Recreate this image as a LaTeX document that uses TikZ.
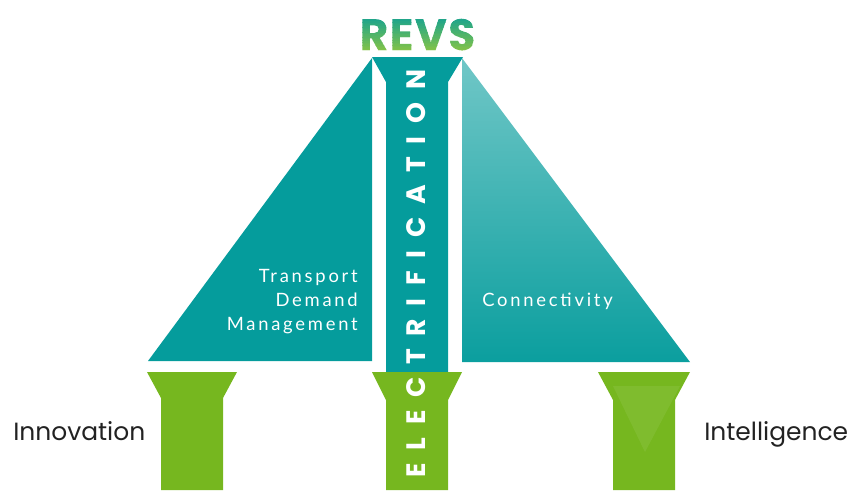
\documentclass[tikz,border=0pt]{standalone}
\usepackage{fontspec}
\setmainfont{Poppins}
\newfontfamily\lblfont{Lato}[LetterSpace=15]
\newfontfamily\elecfont{Poppins}[LetterSpace=47.5]
\newfontfamily\revsfamily{Poppins}[LetterSpace=3]
\definecolor{revteal}{HTML}{059C9C}
\definecolor{revgreen}{HTML}{76B71F}
\definecolor{revlight}{HTML}{A3DBDB}
\definecolor{revstop}{HTML}{0FA095}
\definecolor{revsbot}{HTML}{8DC641}
\definecolor{sidetext}{HTML}{222222}
\pgfdeclareverticalshading{conngrad}{100bp}{color(0bp)=(revteal); color(22bp)=(revteal); color(100bp)=(revlight)}
% text filled with a vertical gradient (text used as a clip, then stripes)
\newcommand\gradtext[1]{%
  \sbox0{#1}%
  \pgfmathsetmacro\rgW{\wd0+4}%
  \pgfmathsetmacro\rgH{\ht0}%
  \gdef\rgstr{}%
  \foreach \i in {0,...,23}{%
    \pgfmathsetmacro\rgt{(\i+0.5)/24}%
    \pgfmathsetmacro\rgr{(1-\rgt)*0.553+\rgt*0.059}%
    \pgfmathsetmacro\rgg{(1-\rgt)*0.776+\rgt*0.627}%
    \pgfmathsetmacro\rgb{(1-\rgt)*0.255+\rgt*0.584}%
    \pgfmathsetmacro\rgy{-3+\i*(\rgH+6)/24}%
    \pgfmathsetmacro\rgh{(\rgH+6)/24+0.3}%
    \xdef\rgstr{\rgstr\space\rgr\space\rgg\space\rgb\space rg -2 \rgy\space\rgW\space\rgh\space re f}%
  }%
  \rlap{\special{pdf:literal direct 7 Tr}#1}\special{pdf:literal \rgstr\space 0 Tr}\hphantom{#1}%
}
\tikzset{
  tealshape/.style={fill=revteal},
  greenshape/.style={fill=revgreen},
  sidelabel/.style={font=\fontsize{18.7}{22}\selectfont, text=sidetext, anchor=base west, inner sep=0pt},
  innerlabel/.style={font=\lblfont\fontsize{13.8}{18}\selectfont, text=white, inner sep=0pt},
  revsfont/.style={font=\revsfamily\bfseries\fontsize{33}{33}\selectfont, inner sep=0pt}
}
\begin{document}
\begin{tikzpicture}[x=0.75pt,y=-0.75pt]
\useasboundingbox (0,0) rectangle (865,490);
% upper triangles
\fill[tealshape] (148,361) -- (372,361) -- (372,58) -- cycle;
\shade[shading=conngrad] (462,58) -- (462,362) -- (690,362) -- cycle;
% central column
\fill[tealshape] (372,57) -- (463,57) -- (448,82) -- (448,372) -- (386,372) -- (386,82) -- cycle;
\fill[greenshape] (372,372) -- (462,372) -- (448,400) -- (448,490) -- (386,490) -- (386,400) -- cycle;
% pillars
\fill[greenshape] (147,372) -- (237,372) -- (223,398) -- (223,490) -- (161,490) -- (161,398) -- cycle;
\fill[greenshape] (598,372) -- (690,372) -- (675,400) -- (675,490) -- (613,490) -- (613,400) -- cycle;
\fill[white, opacity=0.07] (613,386) -- (680,386) -- (645,452) -- cycle;
% labels
\node (revs) [revsfont, text=revstop!50!revsbot] at (417.5,34.5) {\gradtext{REVS}};
\node (elec) [font=\elecfont\bfseries\fontsize{20}{20}\selectfont, text=white, rotate=90, inner sep=0pt] at (416,273.5) {ELECTRIFICATION};
\node (tdm) [innerlabel, align=right, anchor=north east] at (358,269) {Transport\\Demand\\Management};
\node (conn) [innerlabel, anchor=base west] at (482,306) {Connectivity};
\node (innov) [sidelabel] at (13,440) {Innovation};
\node (intel) [sidelabel] at (704,440) {Intelligence};
\end{tikzpicture}
\end{document}
